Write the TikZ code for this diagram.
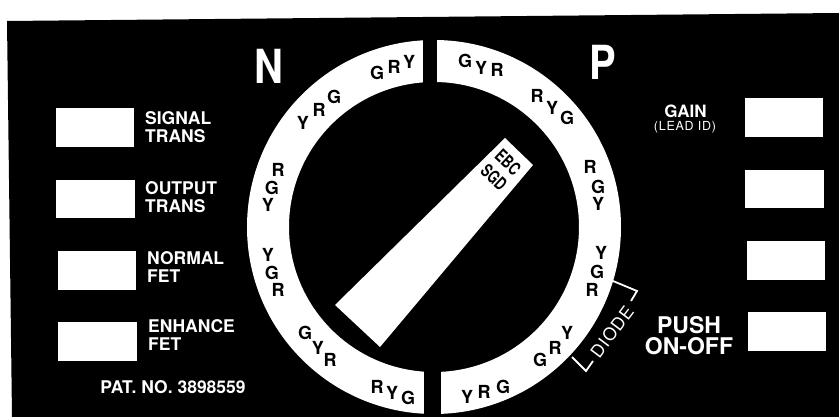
\documentclass[tikz,border=0pt]{standalone}
\usepackage{fontspec}
\setmainfont{TeX Gyre Heros}
\newfontfamily\condfont[FakeStretch=0.72]{TeX Gyre Heros}
\newfontfamily\bigfont[FakeStretch=0.85]{TeX Gyre Heros}
\tikzset{
  panelbox/.style={fill=white,draw=none},
  lbl/.style={text=white,inner sep=0pt,align=left,anchor=west,font=\bfseries\fontsize{17.5}{18}\selectfont},
  ringl/.style={text=black,inner sep=0pt,font=\bfseries\fontsize{18}{18}\selectfont},
  bigl/.style={text=white,inner sep=0pt,font=\bigfont\bfseries\fontsize{47}{47}\selectfont},
  bracket/.style={draw=white,line width=1.8pt,line join=miter},
  ptrtxt/.style={text=black,inner sep=0pt,align=center,font=\condfont\bfseries\fontsize{18}{20.5}\selectfont,rotate=-43}
}
\begin{document}
\begin{tikzpicture}[x=1pt,y=-1pt]
\useasboundingbox (0,0) rectangle (839,417);
\fill[white] (0,0) rectangle (839,417);
% black panel
\fill[black] (7,21) -- (839,13) -- (839,417) -- (12,417) -- cycle;
% ring
\fill[white,even odd rule] (434,227) circle[radius=187] (434,227) circle[radius=145];
\fill[black] (423,30) rectangle (437,90);
\fill[black] (424,360) rectangle (441,417);
% pointer
\fill[white] (335,305) -- (380,347) -- (533,165) -- (505,138) -- cycle;
\node[ptrtxt] (ebc) at (501,170) {EBC\\SGD};
% N and P
\node[bigl] (N) at (269,66.5) {N};
\node[bigl] (P) at (603,62.5) {P};
% ring letters
\foreach \n/\x/\y/\t in {
  a1/377/73/G, a2/394/67/R, a3/409/62/Y,
  b1/303/123/Y, b2/319/110/R, b3/334/97/G,
  c1/278/170/R, c2/272/188/G, c3/268/205/Y,
  d1/268/255/Y, d2/272/273/G, d3/278/290/R,
  e1/305/333/G, e2/318/348/Y, e3/330/360/R,
  f1/377/387/R, f2/392/393/Y, f3/408/398/G,
  g1/465/61/G, g2/481/68/Y, g3/497/70/R,
  h1/537/96/R, h2/552/108/Y, h3/567/118/G,
  i1/590/167/R, i2/598/187/G, i3/598/204/Y,
  j1/601/253/Y, j2/597/272/G, j3/592/290/R,
  k1/540/360/G, k2/555/348/R, k3/567/333/Y,
  m1/467/397/Y, m2/484/392/R, m3/503/387/G}
  \node[ringl] (\n) at (\x,\y) {\t};
% diode bracket
\coordinate (q1) at (613,281);
\coordinate (q2) at (637,291);
\coordinate (q3) at (631,301);
\coordinate (q4) at (593,361);
\coordinate (q5) at (586,371);
\coordinate (q6) at (572,357);
\draw[bracket] (q1) -- (q2) -- (q3);
\draw[bracket] (q4) -- (q5) -- (q6);
\node[text=white,inner sep=0pt,rotate=53,font=\fontsize{17.5}{17.5}\selectfont\addfontfeature{LetterSpace=5}] (diode) at (612,332) {DIODE};
% left boxes and labels
\fill[panelbox] (56,108) rectangle (134,147);
\fill[panelbox] (56,180) rectangle (135,218);
\fill[panelbox] (58,251) rectangle (136,290);
\fill[panelbox] (58,322) rectangle (137,361);
\node[lbl] (l1) at (145,127.5) {SIGNAL\\TRANS};
\node[lbl] (l2) at (145,197.5) {OUTPUT\\TRANS};
\node[lbl] (l3) at (147,267.5) {NORMAL\\FET};
\node[lbl] (l4) at (148,335.5) {ENHANCE\\FET};
\node[text=white,inner sep=0pt,font=\bfseries\fontsize{17.5}{17.5}\selectfont] (pat) at (173,387.5) {PAT. NO. 3898559};
% right boxes and labels
\fill[panelbox] (745,98) rectangle (823,137);
\fill[panelbox] (745,170) rectangle (824,208);
\fill[panelbox] (747,241) rectangle (825,280);
\fill[panelbox] (748,312) rectangle (826,351);
\node[text=white,inner sep=0pt,font=\bfseries\fontsize{17}{17}\selectfont] (gain) at (685.5,111) {GAIN};
\node[text=white,inner sep=0pt,font=\fontsize{12.5}{12.5}\selectfont\addfontfeature{LetterSpace=6}] (lead) at (685,127.5) {(LEAD ID)};
\node[text=white,inner sep=0pt,align=center,font=\bfseries\fontsize{23}{20.5}\selectfont] (push) at (689,335.5) {PUSH\\ON-OFF};
\end{tikzpicture}
\end{document}
